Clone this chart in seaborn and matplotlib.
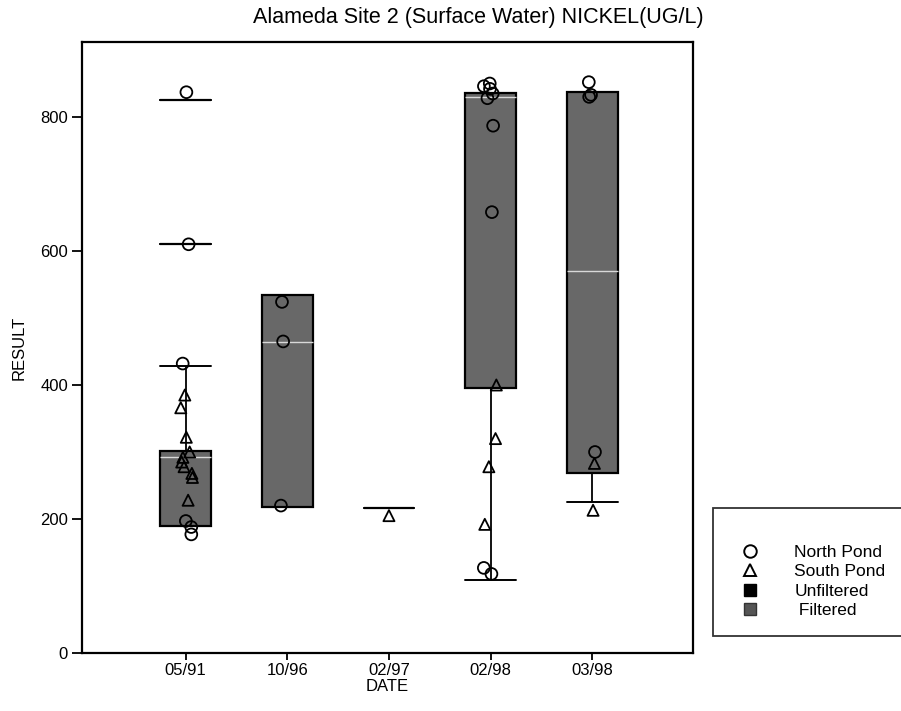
import numpy as np
import pandas as pd
import seaborn as sns
import matplotlib.pyplot as plt
from matplotlib.lines import Line2D

dates = ["05/91", "10/96", "02/97", "02/98", "03/98"]

# box statistics per date: low whisker, q1, median, q3, high whisker
box_dates = ["05/91", "10/96", "02/98", "03/98"]
box_low = [190, 218, 109, 225]
box_q1 = [190, 218, 395, 268]
box_med = [292, 464, 830, 570]
box_q3 = [302, 534, 836, 837]
box_high = [428, 534, 836, 837]

# single-value groups (drawn as flat boxes with caps)
single_dates = ["05/91", "05/91", "02/97"]
single_vals = [610, 826, 216]
single_grp = ["a", "b", "a"]

north_dates = ["05/91"] * 6 + ["10/96"] * 3 + ["02/98"] * 9 + ["03/98"] * 4
north_vals = [837, 610, 432, 197, 188, 177,
              524, 465, 220,
              850, 846, 842, 835, 828, 787, 658, 127, 118,
              852, 833, 830, 300]
south_dates = ["05/91"] * 10 + ["02/97"] + ["02/98"] * 4 + ["03/98"] * 2
south_vals = [385, 366, 322, 300, 292, 285, 278, 268, 262, 228,
              205,
              400, 320, 278, 192,
              283, 213]

rows = []
for d, lo, a, m, b, hi in zip(box_dates, box_low, box_q1, box_med, box_q3, box_high):
    for v in (lo, a, m, b, hi):
        rows.append({"date": d, "value": v})
box_df = pd.DataFrame(rows)
single_df = pd.DataFrame({"date": single_dates, "value": single_vals, "grp": single_grp})
north = pd.DataFrame({"date": north_dates, "result": north_vals})
south = pd.DataFrame({"date": south_dates, "result": south_vals})

sns.set_style("ticks")
plt.rcParams["font.family"] = ["Liberation Sans", "DejaVu Sans"]
for k in ["text.color", "axes.labelcolor", "xtick.color", "ytick.color"]:
    plt.rcParams[k] = "black"
np.random.seed(3)

fig = plt.figure(figsize=(9.01, 7.11), dpi=100)
ax = fig.add_axes([0.091, 0.0816, 0.678, 0.8594])

box_fill = "#686868"
line_kw = dict(
    boxprops=dict(edgecolor="black", linewidth=1.6),
    whiskerprops=dict(color="black", linewidth=1.3),
    capprops=dict(color="black", linewidth=1.4),
)
sns.boxplot(data=box_df, x="date", y="value", order=dates, color=box_fill,
            width=0.5, whis=(0, 100), showfliers=False, saturation=1,
            capwidths=0.5, medianprops=dict(color="#d9d9d9", linewidth=1.0),
            ax=ax, **line_kw)
sns.boxplot(data=single_df, x="date", y="value", order=dates, hue="grp",
            palette=[box_fill, box_fill], dodge=False, width=0.5, whis=(0, 100),
            showfliers=False, saturation=1, legend=False, capwidths=0.5,
            medianprops=dict(color="black", linewidth=1.4), ax=ax, **line_kw)

n_before = len(ax.collections)
sns.stripplot(data=north, x="date", y="result", order=dates, marker="o",
              size=8.5, jitter=0.07, color="black", linewidth=1.3, ax=ax)
sns.stripplot(data=south, x="date", y="result", order=dates, marker="^",
              size=8, jitter=0.07, color="black", linewidth=1.3, ax=ax)
for coll in ax.collections[n_before:]:
    coll.set_facecolor("none")
    coll.set_edgecolor("black")

ax.set_xlim(-1.02, 4.99)
ax.set_ylim(0, 912)
ax.set_yticks([0, 200, 400, 600, 800])
ax.set_xticks(range(len(dates)))
ax.set_xticklabels(dates)
ax.tick_params(axis="y", labelsize=12, length=7, width=1.3, pad=3)
ax.tick_params(axis="x", labelsize=12, length=5, width=1.3, pad=2)
for s in ax.spines.values():
    s.set_linewidth(1.6)
    s.set_color("black")
ax.set_xlabel("DATE", fontsize=12, labelpad=1)
ax.set_ylabel("RESULT", fontsize=12, labelpad=10)
fig.text(0.531, 0.976, "Alameda Site 2 (Surface Water) NICKEL(UG/L)",
         fontsize=15.5, ha="center", va="center")

handles = [
    Line2D([], [], ls="", marker="o", mfc="none", mec="black", ms=9, mew=1.4),
    Line2D([], [], ls="", marker="^", mfc="none", mec="black", ms=9, mew=1.4),
    Line2D([], [], ls="", marker="s", mfc="black", mec="black", ms=9),
    Line2D([], [], ls="", marker="s", mfc="#555555", mec="#333333", ms=9),
]
labels = ["North Pond", "South Pond", "Unfiltered", " Filtered"]
leg = fig.legend(handles, labels, loc="upper left", bbox_to_anchor=(0.791, 0.2855),
                 frameon=True, fancybox=False, fontsize=12.5, title=" ",
                 title_fontsize=12, handletextpad=1.4, labelspacing=0.25,
                 borderpad=1.0, handlelength=2.3, borderaxespad=0)
leg.get_frame().set_edgecolor("black")
leg.get_frame().set_linewidth(1.3)

fig.savefig("out.png", dpi=100)
